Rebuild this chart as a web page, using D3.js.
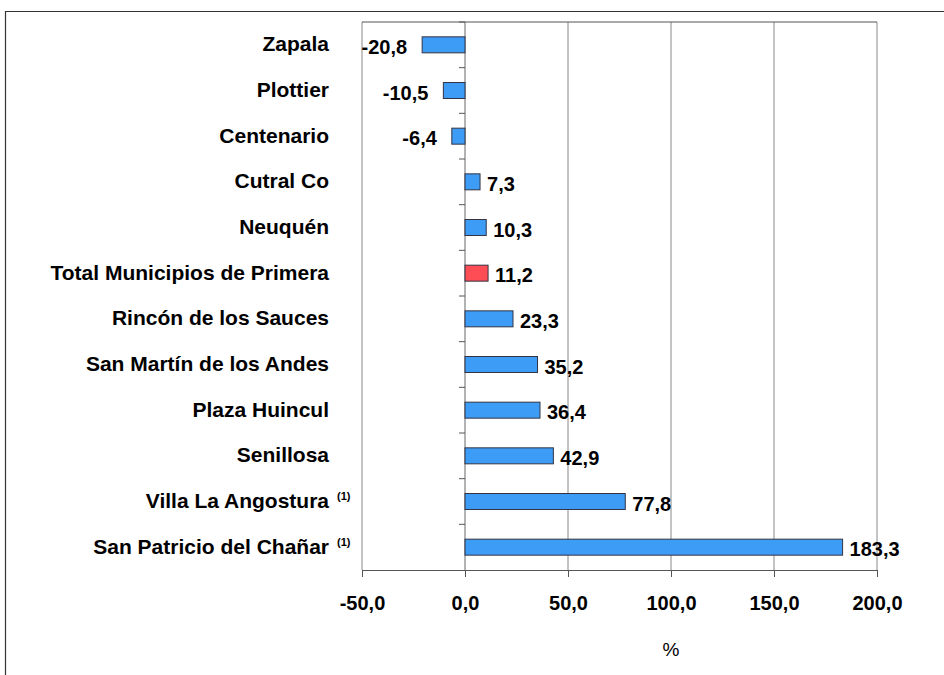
<!DOCTYPE html>
<html>
<head>
<meta charset="utf-8">
<script src="https://cdn.jsdelivr.net/npm/d3@7"></script>
<style>
  body { margin: 0; background: #fff; }
  text { font-family: "Liberation Sans", Arial, sans-serif; }
</style>
</head>
<body>
<div id="chart"></div>
<script>
const width = 944
const height = 675
const margin = { top: 22, bottom: 105, left: 362, right: 67 }

// data, top to bottom
const categories = ["Zapala", "Plottier", "Centenario", "Cutral Co", "Neuquén", "Total Municipios de Primera",
    "Rincón de los Sauces", "San Martín de los Andes", "Plaza Huincul", "Senillosa", "Villa La Angostura", "San Patricio del Chañar"]
const values = [-20.8, -10.5, -6.4, 7.3, 10.3, 11.2, 23.3, 35.2, 36.4, 42.9, 77.8, 183.3]
const notes = ["", "", "", "", "", "", "", "", "", "", "(1)", "(1)"]
const highlight = "Total Municipios de Primera"
const xTicks = [-50, 0, 50, 100, 150, 200]

const data = categories.map((c, i) => ({ name: c, value: values[i], note: notes[i] }))

const svg = d3.select("div#chart").append("svg").attr("width", width).attr("height", height)

// outer frame
svg.append("path").attr("d", `M5.5,${height} V11.5 H${width}`)
    .attr("fill", "none").attr("stroke", "#333").attr("stroke-width", 1.2)

const innerW = width - margin.left - margin.right
const innerH = height - margin.top - margin.bottom
const g = svg.append("g").attr("transform", `translate(${margin.left}, ${margin.top})`)

const x = d3.scaleLinear().domain([-50, 200]).range([0, innerW])
const y = d3.scaleBand().domain(categories).range([0, innerH]).paddingInner(0.65).paddingOuter(0.325)
const yEdges = d3.scaleBand().domain(categories).range([0, innerH])

const fmt = v => d3.format(".1f")(v).replace(".", ",").replace("−", "-")

// grid lines
g.selectAll("line.grid").data(xTicks).enter().append("line")
    .attr("class", "grid")
    .attr("x1", d => x(d)).attr("x2", d => x(d))
    .attr("y1", 0).attr("y2", innerH)
    .attr("stroke", d => d === 0 ? "#666" : "#888").attr("stroke-width", 1)

// top border of plot
g.append("line").attr("x1", 0).attr("x2", innerW).attr("y1", 0).attr("y2", 0)
    .attr("stroke", "#555")

// bottom axis
const xAxis = d3.axisBottom(x).tickValues(xTicks).tickSize(7).tickFormat(fmt)
const xAxisGroup = g.append("g").attr("transform", `translate(0, ${innerH})`).call(xAxis)
xAxisGroup.select(".domain").attr("stroke", "#555")
xAxisGroup.selectAll(".tick line").attr("stroke", "#555")
xAxisGroup.selectAll(".tick text")
    .attr("y", 33).attr("dy", "0.35em")
    .style("font-size", "20px").style("font-weight", "bold").attr("fill", "#000")

// category ticks on zero line
const catTicks = categories.slice(1).map(c => yEdges(c))
catTicks.unshift(0)
g.selectAll("line.cat").data(catTicks).enter().append("line")
    .attr("x1", x(0) - 6).attr("x2", x(0))
    .attr("y1", d => d).attr("y2", d => d)
    .attr("stroke", "#555")

// bars
g.selectAll("rect.bar").data(data).enter().append("rect")
    .attr("class", "bar")
    .attr("x", d => x(Math.min(0, d.value)))
    .attr("y", d => y(d.name))
    .attr("width", d => Math.abs(x(d.value) - x(0)))
    .attr("height", y.bandwidth())
    .attr("fill", d => d.name === highlight ? "#ff4d55" : "#3d9cf5")
    .attr("stroke", "#334")
    .attr("stroke-width", 1)

// value labels
g.selectAll("text.val").data(data).enter().append("text")
    .attr("class", "val")
    .attr("x", d => d.value < 0 ? x(d.value) - 15 : x(d.value) + 7)
    .attr("y", d => y(d.name) + y.bandwidth() / 2 + 4)
    .attr("dominant-baseline", "middle")
    .attr("text-anchor", d => d.value < 0 ? "end" : "start")
    .style("font-size", "20px").style("font-weight", "bold")
    .text(d => fmt(d.value))

// category labels
const labels = g.selectAll("g.cat").data(data).enter().append("g")
    .attr("transform", d => `translate(-33, ${y(d.name) + y.bandwidth() / 2 + 1})`)
labels.append("text")
    .attr("text-anchor", "end").attr("dominant-baseline", "middle")
    .style("font-size", "21px").style("font-weight", "bold")
    .text(d => d.name)
labels.filter(d => d.note).append("text")
    .attr("x", 8).attr("y", -5)
    .attr("dominant-baseline", "middle")
    .style("font-size", "11px").style("font-weight", "bold")
    .text(d => d.note)

// axis title
svg.append("text").attr("x", margin.left + x(100)).attr("y", 651)
    .attr("text-anchor", "middle").attr("dominant-baseline", "middle")
    .style("font-size", "19px")
    .text("%")
</script>
</body>
</html>
